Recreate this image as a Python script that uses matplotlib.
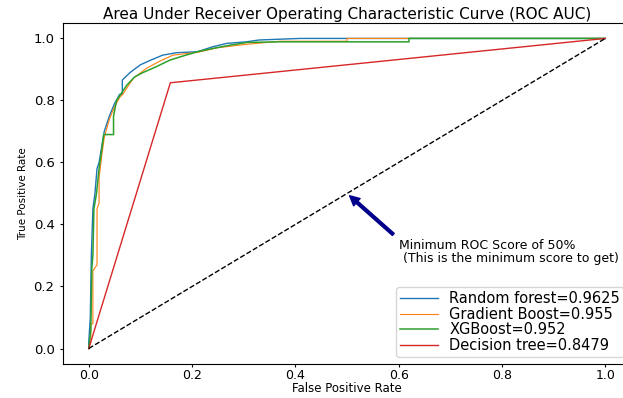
import matplotlib
matplotlib.use("Agg")
import matplotlib.pyplot as plt

# ROC curve points (false positive rate, true positive rate)
rf_fpr = [0.0, 0.0, 0.003, 0.005, 0.008, 0.012, 0.016, 0.02, 0.025, 0.03, 0.04, 0.05, 0.06, 0.065, 0.065,
          0.08, 0.10, 0.12, 0.143, 0.17, 0.21, 0.24, 0.267, 0.305, 0.33, 0.41, 1.0]
rf_tpr = [0.0, 0.02, 0.10, 0.30, 0.45, 0.50, 0.58, 0.60, 0.65, 0.70, 0.75, 0.79, 0.82, 0.82, 0.866,
          0.89, 0.915, 0.93, 0.946, 0.954, 0.957, 0.973, 0.984, 0.989, 0.995, 1.0, 1.0]

gb_fpr = [0.0, 0.004, 0.004, 0.008, 0.008, 0.016, 0.016, 0.02, 0.02, 0.025, 0.03, 0.04, 0.05, 0.06, 0.066,
          0.086, 0.112, 0.138, 0.163, 0.21, 0.25, 0.30, 0.37, 0.50, 0.50, 1.0]
gb_tpr = [0.0, 0.02, 0.08, 0.08, 0.25, 0.27, 0.45, 0.47, 0.55, 0.62, 0.68, 0.74, 0.78, 0.81, 0.82,
          0.871, 0.904, 0.927, 0.946, 0.955, 0.97, 0.98, 0.991, 0.991, 1.0, 1.0]

xgb_fpr = [0.0, 0.004, 0.006, 0.008, 0.01, 0.015, 0.02, 0.025, 0.029, 0.048, 0.048, 0.054, 0.074,
           0.089, 0.105, 0.131, 0.157, 0.176, 0.21, 0.241, 0.273, 0.306, 0.37, 0.62, 0.62, 1.0]
xgb_tpr = [0.0, 0.06, 0.26, 0.30, 0.45, 0.50, 0.58, 0.64, 0.69, 0.69, 0.75, 0.80, 0.85,
           0.876, 0.89, 0.909, 0.93, 0.94, 0.957, 0.968, 0.978, 0.987, 0.989, 0.989, 1.0, 1.0]

dt_fpr = [0.0, 0.158, 1.0]
dt_tpr = [0.0, 0.857, 1.0]

labels = ["Random forest=0.9625", "Gradient Boost=0.955", "XGBoost=0.952", "Decision tree=0.8479"]
colors = ["#1f77b4", "#ff7f0e", "#2ca02c", "#d62728"]

fig = plt.figure(figsize=(6.23, 3.98), dpi=100)
ax = fig.add_axes([0.101, 0.0854, 0.912, 0.857])

ax.plot(rf_fpr, rf_tpr, color=colors[0], lw=1, label=labels[0])
ax.plot(gb_fpr, gb_tpr, color=colors[1], lw=0.8, label=labels[1])
ax.plot(xgb_fpr, xgb_tpr, color=colors[2], lw=1.1, label=labels[2])
ax.plot(dt_fpr, dt_tpr, color=colors[3], lw=1, label=labels[3])
ax.plot([0, 1], [0, 1], "k--", lw=1)

ax.annotate("Minimum ROC Score of 50% \n (This is the minimum score to get)",
            xy=(0.5, 0.5), xytext=(0.6, 0.28), fontsize=9, linespacing=0.95,
            arrowprops=dict(facecolor="darkblue", edgecolor="darkblue", shrink=0.05,
                            width=2, headwidth=7, headlength=7))

ax.set_xlim(-0.05, 1.05)
ax.set_ylim(-0.05, 1.05)
ax.set_xticks([0.0, 0.2, 0.4, 0.6, 0.8, 1.0])
ax.set_yticks([0.0, 0.2, 0.4, 0.6, 0.8, 1.0])
ax.tick_params(labelsize=9.5, length=2.5)
ax.tick_params(axis="x", labelsize=9, pad=1)
ax.set_title("Area Under Receiver Operating Characteristic Curve (ROC AUC)", fontsize=11, pad=3)
ax.set_xlabel("False Positive Rate", fontsize=8.5, labelpad=0)
ax.set_ylabel("True Positive Rate", fontsize=7.5)
ax.legend(loc="lower right", fontsize=10.5, labelspacing=0.05, borderpad=0.25,
          handlelength=2.6, handletextpad=0.8)

fig.savefig("out.png", dpi=100)
